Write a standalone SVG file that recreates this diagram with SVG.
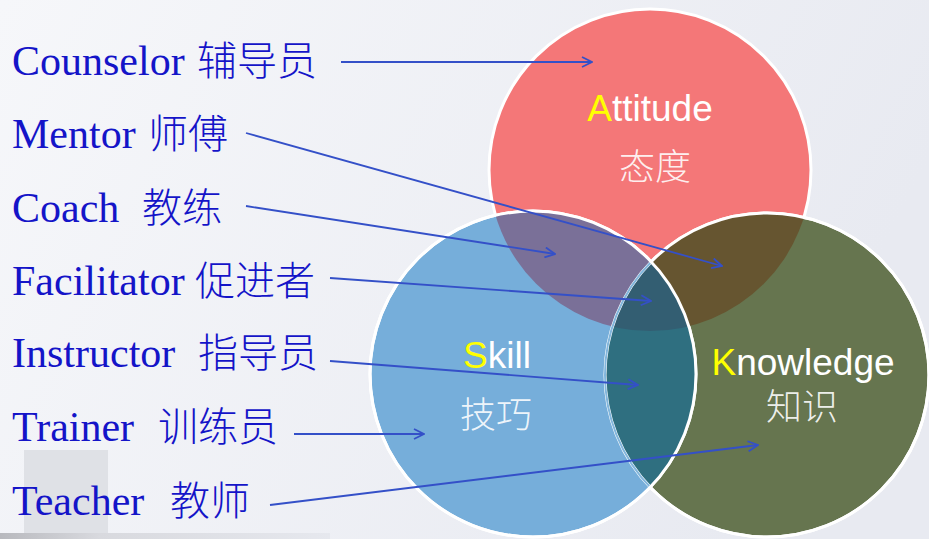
<svg xmlns="http://www.w3.org/2000/svg" width="929" height="539" viewBox="0 0 929 539">
<defs>
<linearGradient id="bg" x1="0" y1="0" x2="1" y2="0.3">
<stop offset="0" stop-color="#F6F7FA"/>
<stop offset="1" stop-color="#E8EAF1"/>
</linearGradient>
<linearGradient id="strip" x1="0" y1="0" x2="1" y2="0">
<stop offset="0" stop-color="#B8B9BE"/>
<stop offset="0.3" stop-color="#D8D9DE"/>
<stop offset="1" stop-color="#E6E8EE"/>
</linearGradient>
<clipPath id="cRed"><circle cx="650" cy="170" r="161"/></clipPath>
<clipPath id="cBlue"><circle cx="533" cy="374" r="163"/></clipPath>
<clipPath id="cGreen"><circle cx="767" cy="375" r="162"/></clipPath>
<marker id="ah" viewBox="0 0 12 12" refX="11" refY="6" markerWidth="12" markerHeight="12" markerUnits="userSpaceOnUse" orient="auto">
<path d="M1,1 L11,6 L1,11" fill="none" stroke="#3450C8" stroke-width="1.8"/>
</marker>
<style>
.lbl{font-family:"Liberation Serif","Times New Roman",serif;font-size:42px;fill:#1414C8;}
.cjk{font-family:"Noto Sans CJK SC",sans-serif;font-size:40px;font-weight:300;}
.arr{fill:none;stroke:#3450C8;stroke-width:1.8;marker-end:url(#ah);}
.ttl{font-family:"Liberation Sans",Arial,sans-serif;font-size:37px;fill:#FFFFFF;text-anchor:middle;}
.sub{font-family:"Noto Sans CJK SC",sans-serif;font-size:36px;font-weight:300;fill:#FFFFFF;fill-opacity:0.9;text-anchor:middle;}
.yl{fill:#FFFF00;}
</style>
</defs>
<rect x="0" y="0" width="929" height="539" fill="url(#bg)"/>
<rect x="24" y="450" width="84" height="84" fill="#DFE1E6"/>
<rect x="0" y="533" width="330" height="6" fill="url(#strip)"/>

<g id="venn">
<g id="attitude">
<circle cx="650" cy="170" r="161" fill="#F47778" stroke="#FFFFFF" stroke-width="3"/>
</g>
<g id="knowledge">
<circle cx="767" cy="375" r="162" fill="#66754F" stroke="#FFFFFF" stroke-width="3"/>
</g>
<g id="skill">
<circle cx="533" cy="374" r="163" fill="#76AEDA" stroke="#FFFFFF" stroke-width="3"/>
</g>
<g id="overlaps">
<g clip-path="url(#cBlue)"><circle cx="650" cy="170" r="161" fill="#7A7098"/></g>
<g clip-path="url(#cGreen)"><circle cx="650" cy="170" r="161" fill="#665530"/></g>
<g clip-path="url(#cBlue)"><circle cx="767" cy="375" r="162" fill="#2F6F80"/></g>
<g clip-path="url(#cBlue)"><g clip-path="url(#cGreen)"><circle cx="650" cy="170" r="161" fill="#335E72"/></g></g>
</g>
<g id="outlines">
<circle cx="767" cy="375" r="162" fill="none" stroke="#FFFFFF" stroke-width="3"/>
<g clip-path="url(#cBlue)"><circle cx="767" cy="375" r="162" fill="none" stroke="#82B6DC" stroke-width="2"/></g>
<circle cx="533" cy="374" r="163" fill="none" stroke="#FFFFFF" stroke-width="3"/>
</g>
</g>

<g id="circle-labels">
<text class="ttl" x="650" y="121"><tspan class="yl">A</tspan>ttitude</text>
<text class="sub" x="655" y="180">态度</text>
<text class="ttl" x="497" y="368"><tspan class="yl">S</tspan>kill</text>
<text class="sub" x="496" y="428">技巧</text>
<text class="ttl" x="803" y="375"><tspan class="yl">K</tspan>nowledge</text>
<text class="sub" x="802" y="420">知识</text>
</g>

<g id="connectors">
<line class="arr" x1="341" y1="62" x2="592" y2="62"/>
<line class="arr" x1="246" y1="133" x2="722" y2="266"/>
<line class="arr" x1="246" y1="206" x2="555" y2="254"/>
<line class="arr" x1="330" y1="278" x2="651" y2="301"/>
<line class="arr" x1="330" y1="361" x2="638" y2="385"/>
<line class="arr" x1="294" y1="434" x2="424" y2="434"/>
<line class="arr" x1="270" y1="505" x2="758" y2="445"/>
</g>

<g id="roles">
<g id="counselor"><text class="lbl" x="12" y="75">Counselor<tspan class="cjk" x="197">辅导员</tspan></text></g>
<g id="mentor"><text class="lbl" x="12" y="148">Mentor<tspan class="cjk" x="148">师傅</tspan></text></g>
<g id="coach"><text class="lbl" x="12" y="222">Coach<tspan class="cjk" x="142">教练</tspan></text></g>
<g id="facilitator"><text class="lbl" x="12" y="295">Facilitator<tspan class="cjk" x="195">促进者</tspan></text></g>
<g id="instructor"><text class="lbl" x="12" y="367">Instructor<tspan class="cjk" x="198">指导员</tspan></text></g>
<g id="trainer"><text class="lbl" x="12" y="441">Trainer<tspan class="cjk" x="158">训练员</tspan></text></g>
<g id="teacher"><text class="lbl" x="12" y="515">Teacher<tspan class="cjk" x="170">教师</tspan></text></g>
</g>
</svg>
